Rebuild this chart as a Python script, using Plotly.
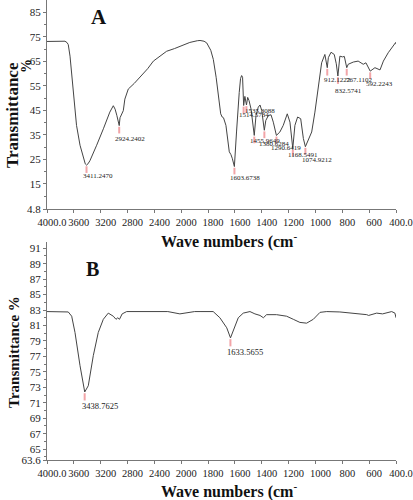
import numpy as np
import plotly.graph_objects as go
from plotly.subplots import make_subplots

# ---------------- data ----------------
x_tick_labels = ["4000.0", "3600", "3200", "2800", "2400", "2000", "1800",
                 "1600", "1400", "1200", "1000", "800", "600", "400.0"]
x_tick_wavenumbers = [4000, 3600, 3200, 2800, 2400, 2000, 1800,
                      1600, 1400, 1200, 1000, 800, 600, 400]

# Panel A spectrum (wavenumber cm-1, transmittance %)
wave_a = [4000, 3800, 3732, 3700, 3683, 3657, 3632, 3600, 3560, 3508, 3459, 3430,
          3411, 3390, 3360, 3300, 3260, 3160, 3064, 3012, 2985, 2960, 2938, 2924,
          2912, 2880, 2863, 2840, 2789, 2700, 2615, 2500, 2415, 2300, 2218, 2100,
          2020, 1936, 1880, 1860, 1830, 1810, 1780, 1761, 1740, 1724, 1706, 1695,
          1685, 1667, 1642, 1630, 1620, 1604, 1595, 1588, 1568, 1558, 1550, 1543,
          1535, 1526, 1514, 1505, 1495, 1480, 1456, 1443, 1426, 1413, 1400, 1381,
          1370, 1351, 1331, 1314, 1291, 1265, 1240, 1210, 1190, 1169, 1153, 1133,
          1110, 1090, 1075, 1060, 1028, 1004, 980, 954, 930, 912, 904, 884, 860,
          845, 833, 818, 798, 785, 767, 756, 718, 682, 644, 624, 592, 557, 519,
          494, 458, 402, 400]
trans_a = [73.1, 73.2, 73.2, 72.6, 71.8, 67.1, 59.0, 49.6, 38.9, 30.8, 25.4, 23.2,
           22.7, 23.2, 24.5, 28.0, 30.8, 37.5, 44.3, 46.9, 45.5, 43.0, 40.5, 38.8,
           42.0, 44.0, 44.9, 49.6, 53.7, 56.0, 58.4, 62.0, 65.1, 67.5, 69.1, 70.2,
           71.1, 72.7, 73.4, 73.5, 73.2, 72.5, 69.5, 65.8, 58.5, 52.3, 43.6, 42.3,
           42.0, 38.9, 28.1, 27.0, 25.5, 22.1, 28.0, 36.2, 52.3, 58.0, 59.2, 58.5,
           47.0, 50.7, 47.2, 50.3, 49.0, 45.6, 34.8, 42.9, 46.3, 47.2, 44.9, 36.9,
           40.9, 42.9, 43.2, 40.2, 34.8, 36.2, 38.9, 43.6, 40.2, 29.5, 38.9, 42.3,
           41.6, 33.5, 30.2, 32.2, 36.2, 44.3, 55.0, 64.4, 67.8, 62.4, 66.5, 68.7,
           67.8, 64.0, 59.0, 67.1, 66.8, 67.0, 62.4, 63.8, 64.7, 65.1, 63.8, 64.4,
           61.0, 62.4, 61.5, 65.1, 68.5, 72.7, 72.0]

# Panel A labelled peaks
peak_wave_a = [3411.2470, 2924.2402, 1603.6738, 1535.3088, 1514.5734, 1455.9649,
               1380.6284, 1290.6419, 1168.5491, 1074.9212, 912.1222, 832.5741,
               767.1102, 592.2243]
peak_trans_a = [22.7, 38.8, 22.1, 47.0, 47.2, 34.8, 36.9, 34.8, 29.5, 30.2,
                62.4, 59.0, 62.4, 61.0]
peak_text_a = ["3411.2470", "2924.2402", "1603.6738", "1514.5734", "1535.3088",
               "1455.9649", "1380.6284", "1290.6419", "1168.5491", "1074.9212",
               "912.1222", "832.5741", "767.1102", "592.2243"]

# Panel B spectrum
wave_b = [4000, 3683, 3632, 3583, 3508, 3460, 3438, 3385, 3310, 3236, 3161, 3087,
          3012, 2972, 2945, 2920, 2880, 2813, 2500, 2200, 2020, 1900, 1860, 1762,
          1712, 1661, 1633, 1612, 1575, 1538, 1488, 1451, 1413, 1388, 1364, 1290,
          1215, 1165, 1116, 1066, 1016, 966, 916, 818, 718, 618, 604, 544, 500,
          432, 408, 400]
trans_b = [82.8, 82.75, 82.2, 80.1, 75.8, 73.5, 72.4, 73.2, 77.1, 80.1, 81.8, 82.6,
           82.2, 81.8, 82.0, 81.8, 82.5, 82.8, 82.8, 82.8, 82.5, 82.8, 82.8, 82.8,
           82.0, 80.7, 79.4, 80.3, 82.0, 82.6, 82.8, 82.5, 82.3, 82.0, 82.4, 82.4,
           82.2, 81.8, 81.4, 81.3, 81.8, 82.7, 82.8, 82.75, 82.6, 82.4, 82.3, 82.6,
           82.5, 82.8, 82.6, 82.0]

peak_wave_b = [3438.7625, 1633.5655]
peak_trans_b = [72.4, 79.4]
peak_text_b = ["3438.7625", "1633.5655"]

# ---------------- helpers ----------------
def to_axis(w):
    """Two-scale FTIR axis: 400 cm-1 per division above 2000, 200 below."""
    w = np.asarray(w, dtype=float)
    return np.where(w >= 2000, (4000 - w) / 400.0, 5 + (2000 - w) / 200.0)

SERIF = "Liberation Serif, Times New Roman, serif"
LINE = "#444444"
PINK = "#f2a5a8"
AXC = "#777777"

fig = make_subplots(rows=2, cols=1, vertical_spacing=0.0)

def pink_segments(pw, pt, length):
    xs, ys = [], []
    for w, t in zip(pw, pt):
        u = float(to_axis(w))
        xs += [u, u, None]
        ys += [t - 0.15 * length, t - length, None]
    return xs, ys

# A
xs, ys = pink_segments(peak_wave_a, peak_trans_a, 3.2)
fig.add_trace(go.Scatter(x=xs, y=ys, mode="lines", line=dict(color=PINK, width=2),
                         hoverinfo="skip", showlegend=False), row=1, col=1)
fig.add_trace(go.Scatter(x=to_axis(wave_a), y=trans_a, mode="lines",
                         line=dict(color=LINE, width=1), showlegend=False),
              row=1, col=1)
# B
xs, ys = pink_segments(peak_wave_b, peak_trans_b, 1.1)
fig.add_trace(go.Scatter(x=xs, y=ys, mode="lines", line=dict(color=PINK, width=2),
                         hoverinfo="skip", showlegend=False), row=2, col=1)
fig.add_trace(go.Scatter(x=to_axis(wave_b), y=trans_b, mode="lines",
                         line=dict(color=LINE, width=1), showlegend=False),
              row=2, col=1)

# peak labels (left edge a little left of the peak, below the pink tick)
dy_a = [11, 13, 11, 10, 6, 6, 14, 13, 7, 13, 12, 15, 12, 13]
dx_a = [-6, -6, -6, -7, -3, -6, -7, -7, -7, -5, -5, -5, -3, -6]
for w, t, txt, dy, dx in zip(peak_wave_a, peak_trans_a, peak_text_a, dy_a, dx_a):
    fig.add_annotation(x=float(to_axis(w)), y=t, xref="x", yref="y", text=txt,
                       showarrow=False, xanchor="left", yanchor="middle",
                       xshift=dx, yshift=-dy,
                       font=dict(family=SERIF, size=7, color="#222"))
for w, t, txt in zip(peak_wave_b, peak_trans_b, peak_text_b):
    fig.add_annotation(x=float(to_axis(w)), y=t, xref="x2", yref="y2", text=txt,
                       showarrow=False, xanchor="left", yanchor="middle",
                       xshift=-5, yshift=-14,
                       font=dict(family=SERIF, size=8.5, color="#222"))

xaxis_common = dict(
    range=[0, 13], tickmode="array", tickvals=to_axis(x_tick_wavenumbers).tolist(),
    ticktext=x_tick_labels, showline=True, linecolor=AXC, linewidth=1,
    ticks="outside", ticklen=3, tickcolor=AXC, showgrid=False, zeroline=False,
    tickfont=dict(family=SERIF, size=10.5, color="#222"), ticklabelshift=5,
    ticklabeloverflow="allow", tickangle=0, automargin=False, mirror=False,
)
fig.update_xaxes(**xaxis_common)

ya_ticks = [4.8, 15, 25, 35, 45, 55, 65, 75, 85]
yb_ticks = [63.6, 65, 67, 69, 71, 73, 75, 77, 79, 81, 83, 85, 87, 89, 91]
yaxis_common = dict(showline=True, linecolor=AXC, linewidth=1, ticks="outside",
                    ticklen=3, tickcolor=AXC, showgrid=False, zeroline=False,
                    automargin=False,
                    tickfont=dict(family=SERIF, size=11, color="#222"))
fig.update_yaxes(range=[4.8, 90], tickmode="array", tickvals=ya_ticks,
                 minor=dict(tickvals=list(range(10, 90, 10)), ticks="outside",
                            ticklen=2, tickcolor=AXC),
                 row=1, col=1, **yaxis_common)
fig.update_yaxes(range=[63.6, 91.8], tickmode="array", tickvals=yb_ticks,
                 minor=dict(tickvals=list(range(64, 92, 2)), ticks="outside",
                            ticklen=2, tickcolor=AXC),
                 row=2, col=1, **yaxis_common)

# domains (pixel-matched)
fig.update_layout(
    xaxis=dict(domain=[0, 1]), xaxis2=dict(domain=[0, 1]),
    yaxis=dict(domain=[(460 - 209) / 460, 1.0]),
    yaxis2=dict(domain=[0, (460 - 242) / 460]),
)

H = 460.0
def py(ypx):
    return (H - ypx) / H
def px(xpx):
    return (xpx - 47) / 349.0

def paper_text(xpx, ypx, text, size, angle=0):
    fig.add_annotation(x=px(xpx), y=py(ypx), xref="paper", yref="paper",
                       text=text, textangle=angle, showarrow=False,
                       xanchor="center", yanchor="middle",
                       font=dict(family=SERIF, size=size, color="#111"))

for ypx in (240, 490):
    paper_text(229, ypx, "<b>Wave numbers (cm<sup>-</sup></b>", 16)

paper_text(12, 115, "<b>Transmittance</b>", 17, -90)
paper_text(27, 66, "<b>%</b>", 14, -90)
paper_text(14, 352, "<b>Transmittance %</b>", 15, -90)
paper_text(99, 17, "<b>A</b>", 21)
paper_text(92, 269, "<b>B</b>", 20)

fig.update_layout(
    width=413, height=500,
    margin=dict(l=47, r=17, t=0, b=40, autoexpand=False),
    paper_bgcolor="white", plot_bgcolor="white",
    showlegend=False,
)

fig.write_html("out.html", config={"displayModeBar": False},
               post_script="document.body.style.margin='0';"
                           "document.body.style.overflow='hidden';")
